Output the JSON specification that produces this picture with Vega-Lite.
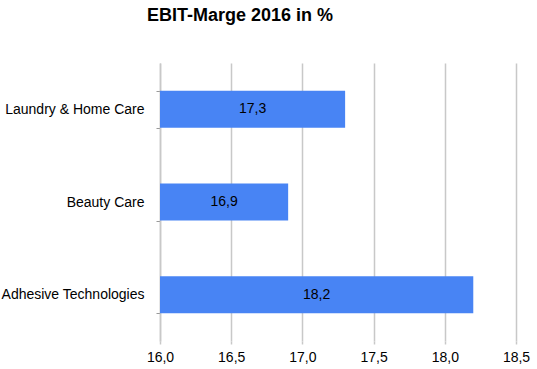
{
  "$schema": "https://vega.github.io/schema/vega-lite/v6.json",
  "width": 356,
  "height": 278,
  "autosize": "none",
  "padding": {"left": 160, "top": 63, "right": 21, "bottom": 28},
  "title": {"text": "EBIT-Marge 2016 in %", "font": "Liberation Sans", "fontSize": 18, "fontWeight": "bold", "color": "#000000", "anchor": "middle", "dx": -98, "offset": 31},
  "data": {"values": [
    {"segment": "Laundry & Home Care", "marge": 17.3},
    {"segment": "Beauty Care", "marge": 16.9},
    {"segment": "Adhesive Technologies", "marge": 18.2}
  ]},
  "transform": [
    {"calculate": "(datum.marge + 16) / 2", "as": "mid"},
    {"calculate": "replace(format(datum.marge, '.1f'), '.', ',')", "as": "lbl"}
  ],
  "encoding": {
    "y": {"field": "segment", "type": "nominal", "sort": null, "title": null,
      "scale": {"paddingInner": 0.6, "paddingOuter": 0.3},
      "axis": {"tickBand": "extent", "grid": false, "domain": true, "domainColor": "#c8c8c8", "domainWidth": 1.5, "ticks": true, "tickSize": 4, "tickColor": "#999999", "labelPadding": 12, "labelFont": "Liberation Sans", "labelFontSize": 14, "labelColor": "#000000"}}
  },
  "layer": [
    {
      "mark": {"type": "bar", "color": "#4884F4"},
      "encoding": {
        "x": {"field": "marge", "type": "quantitative", "title": null,
          "scale": {"domain": [16, 18.5], "zero": false, "nice": false},
          "axis": {"values": [16, 16.5, 17, 17.5, 18, 18.5], "labelExpr": "replace(format(datum.value, '.1f'), '.', ',')", "labelFlush": false, "labelOverlap": false, "grid": true, "gridColor": "#c8c8c8", "gridWidth": 1.5, "domain": false, "ticks": true, "tickSize": 3, "tickColor": "#c8c8c8", "tickWidth": 1.5, "labelPadding": 6, "labelFont": "Liberation Sans", "labelFontSize": 14, "labelColor": "#000000"}},
        "x2": {"datum": 16}
      }
    },
    {
      "mark": {"type": "text", "font": "Liberation Sans", "fontSize": 14, "color": "#000000", "align": "center", "baseline": "middle"},
      "encoding": {
        "x": {"field": "mid", "type": "quantitative"},
        "text": {"field": "lbl"}
      }
    }
  ],
  "config": {"view": {"stroke": null}}
}
